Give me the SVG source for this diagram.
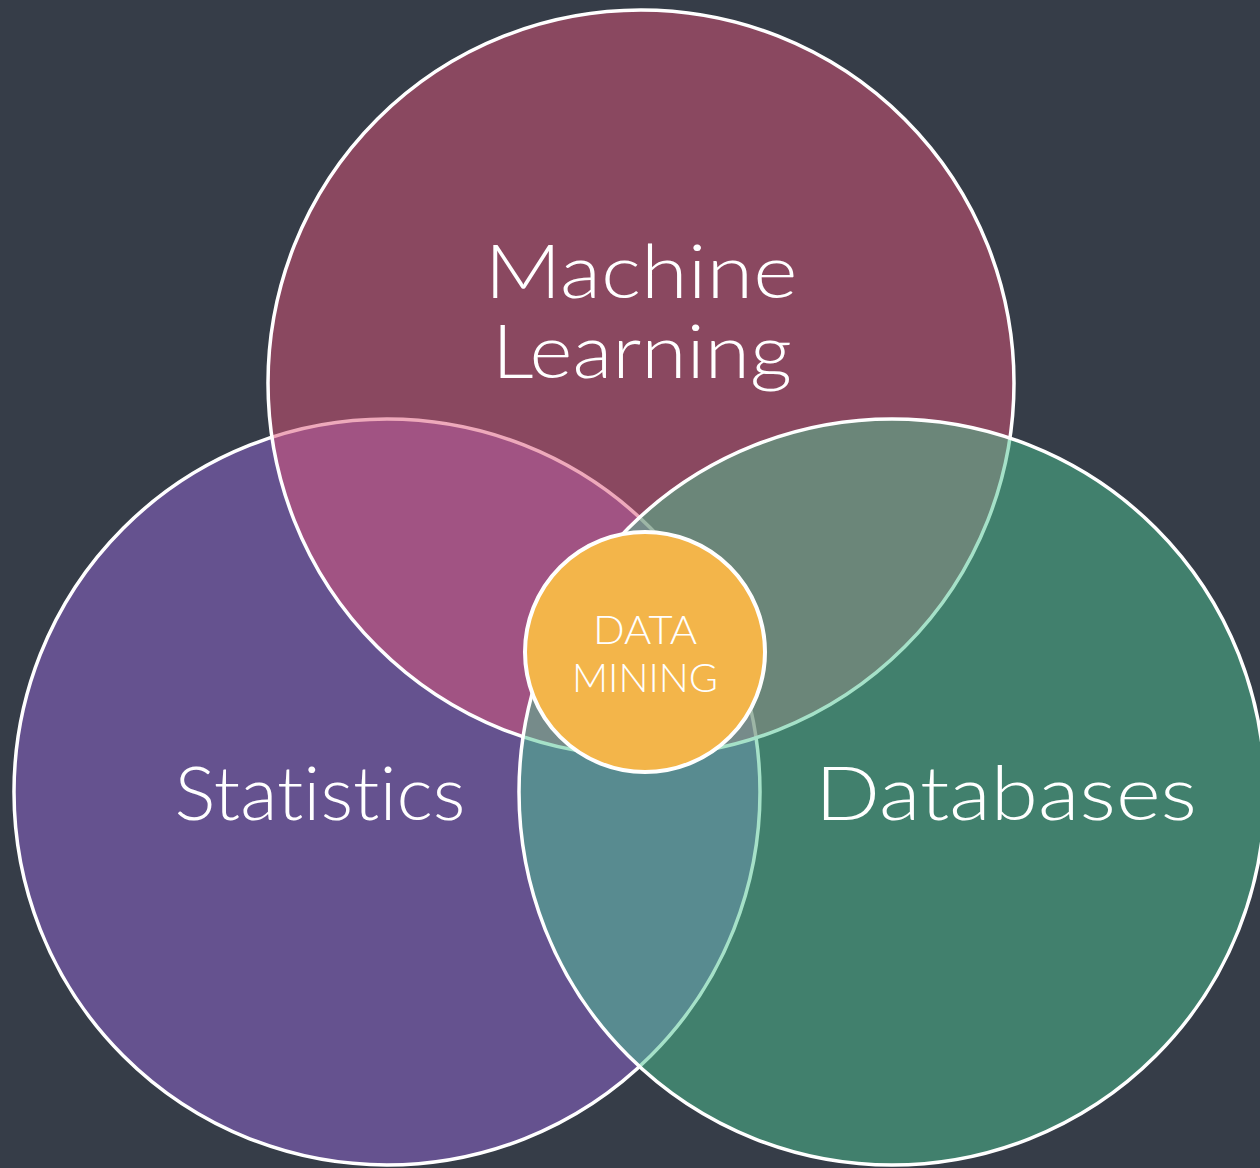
<svg xmlns="http://www.w3.org/2000/svg" width="1260" height="1168" viewBox="0 0 1260 1168">
<style>
.ring{stroke:#ffffff;stroke-width:3.5}
.lbl{font-family:Lato,"Open Sans","Liberation Sans",sans-serif;font-weight:300;fill:#ffffff;text-anchor:middle;font-variant-ligatures:none;font-feature-settings:"liga" 0}
.big{font-size:75px}
.small{font-size:39px}
</style>
<rect x="0" y="0" width="1260" height="1168" fill="#363d48"/>
<g id="statistics">
<circle class="ring" cx="387" cy="792" r="373" fill="#65528f"/>
</g>
<g id="machine-learning">
<circle class="ring" cx="641" cy="383" r="373" fill="#de5378" fill-opacity="0.5"/>
</g>
<g id="databases">
<circle class="ring" cx="892" cy="792" r="373" fill="#4cc392" fill-opacity="0.5"/>
</g>
<g id="labels">
<text class="lbl big" x="641" y="298" textLength="313" lengthAdjust="spacingAndGlyphs">Machine</text>
<text class="lbl big" x="642" y="378" textLength="300" lengthAdjust="spacingAndGlyphs">Learning</text>
<text class="lbl big" x="320" y="820" textLength="291" lengthAdjust="spacingAndGlyphs">Statistics</text>
<text class="lbl big" x="1006" y="820" textLength="382" lengthAdjust="spacingAndGlyphs">Databases</text>
</g>
<g id="data-mining">
<circle cx="645" cy="652" r="120" fill="#f3b54a" stroke="#ffffff" stroke-width="4"/>
<text class="lbl small" x="645" y="644" textLength="104" lengthAdjust="spacingAndGlyphs">DATA</text>
<text class="lbl small" x="645" y="692" textLength="146" lengthAdjust="spacingAndGlyphs">MINING</text>
</g>
<g id="connectors"/>
</svg>
